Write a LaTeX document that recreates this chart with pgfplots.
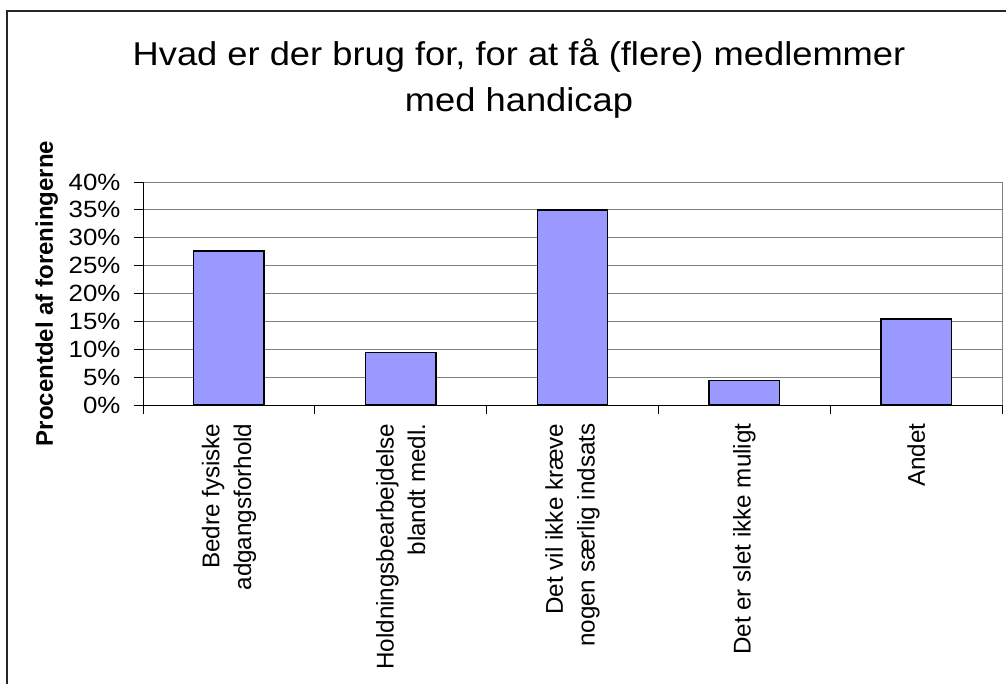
\documentclass[border=0pt]{standalone}
\usepackage{fontspec}
\setmainfont{Liberation Sans}[FakeStretch=1.1]
\newfontfamily\rotfont{Liberation Sans}
\usepackage{pgfplots}
\pgfplotsset{compat=1.18}
\definecolor{barblue}{HTML}{9999FF}
\definecolor{gridgray}{HTML}{808080}
\begin{document}
\begin{tikzpicture}[x=1pt,y=1pt]
\useasboundingbox (0,0) rectangle (1006,683);
\draw[line width=2pt, black!85] (7,-5) -- (7,672) -- (1012,672);
\node[anchor=base, font=\fontsize{33}{46}\selectfont] at (519,617) {Hvad er der brug for, for at få (flere) medlemmer};
\node[anchor=base, font=\fontsize{33}{46}\selectfont] at (519,571) {med handicap};
\begin{axis}[
  at={(143pt,278pt)}, anchor=south west,
  scale only axis, width=859pt, height=223pt,
  ymin=0, ymax=40, xmin=-0.5, xmax=4.5,
  ybar, bar width=0.41,
  axis x line*=bottom, axis y line*=left,
  axis line style={line width=1pt, black, -},
  tick align=outside,
  major tick length=9pt,
  tick style={black, line width=1pt},
  ytick={0,5,...,40},
  /pgf/number format/assume math mode=true,
  yticklabel={\pgfmathprintnumber{\tick}\%},
  yticklabel style={font=\fontsize{23.5}{27}\selectfont, xshift=-10pt},
  ymajorgrids,
  major grid style={gridgray, line width=1pt},
  xtick={-0.5,0.5,1.5,2.5,3.5,4.5},
  xticklabels={},
  extra x ticks={0,1,2,3,4},
  extra x tick labels={{Bedre fysiske\\adgangsforhold},{Holdningsbearbejdelse\\blandt medl.},{Det vil ikke kræve\\nogen særlig indsats},{Det er slet ikke muligt},{Andet}},
  extra x tick style={major tick length=0pt},
  xticklabel style={rotate=90, anchor=east, align=right, font=\rotfont\fontsize{24.2}{31.7}\selectfont, xshift=-15pt},
  ylabel={\textbf{Procentdel af foreningerne}},
  every axis y label/.style={at={(rel axis cs:0,0.5)}, xshift=-90pt, rotate=90, anchor=base, font=\rotfont\bfseries\fontsize{24}{28}\selectfont},
  clip=false,
]
\addplot[fill=barblue, draw=black, line width=1.5pt] coordinates {(0,27.6) (1,9.4) (2,35.0) (3,4.4) (4,15.4)};
\draw[gridgray, line width=1pt] (rel axis cs:1,0) -- (rel axis cs:1,1);
\end{axis}
\end{tikzpicture}
\end{document}
